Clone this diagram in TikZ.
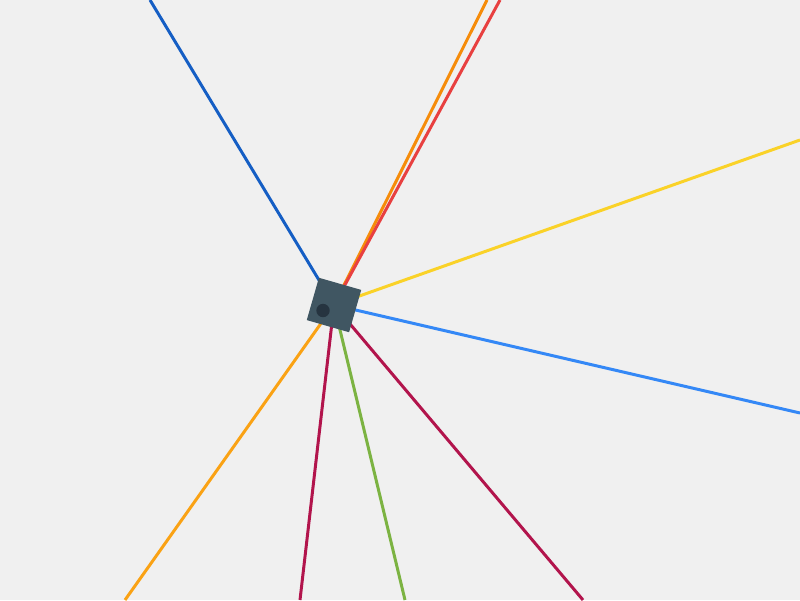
\documentclass[tikz,border=0pt]{standalone}
\usetikzlibrary{calc}
\definecolor{canvas}{RGB}{240,240,240}
\definecolor{navy}{RGB}{21,94,196}
\definecolor{tangerine}{RGB}{246,140,10}
\definecolor{coral}{RGB}{232,64,64}
\definecolor{sun}{RGB}{250,210,40}
\definecolor{sky}{RGB}{52,136,246}
\definecolor{berry}{RGB}{178,20,76}
\definecolor{lime}{RGB}{124,179,66}
\definecolor{honey}{RGB}{250,162,20}
\definecolor{slate}{RGB}{64,86,98}
\definecolor{ink}{RGB}{38,52,64}
\tikzset{
  ray/.style={line width=0.85pt},
  hub/.style={fill=slate,minimum size=4.4mm,inner sep=0pt,rotate=-16}
}

\begin{document}
\begin{tikzpicture}[x=0.01cm,y=-0.01cm]
    \fill[canvas] (0,0) rectangle (800,600);
    \useasboundingbox (0,0) rectangle (800,600);
    \coordinate (c) at (334,305);
    % rays out of the hub
    \foreach \px/\py/\col [count=\i] in {
      150/0/navy, 487/0/tangerine, 500/0/coral, 800/140/sun,
      800/413/sky, 583/600/berry, 405/600/lime, 300/600/berry, 125/600/honey}
    {
      \coordinate (e\i) at (\px,\py);
      \draw[ray,\col] (c) -- (e\i);
    }
    \node[hub] (box) at (c) {};
    \fill[ink] ($(c)+(-11,5.5)$) circle (0.67mm);
  \end{tikzpicture}
\end{document}
